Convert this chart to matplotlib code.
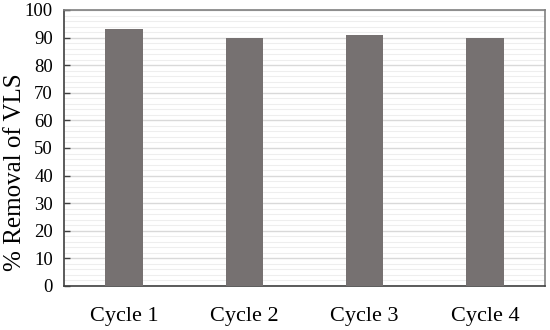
import matplotlib
matplotlib.use("Agg")
import matplotlib.pyplot as plt
from matplotlib.ticker import MultipleLocator

cycles = ["Cycle 1", "Cycle 2", "Cycle 3", "Cycle 4"]
removal = [93, 90, 91, 90]

plt.rcParams['font.family'] = ['Liberation Serif', 'DejaVu Serif']

fig = plt.figure(figsize=(5.5, 3.3), dpi=100)
ax = fig.add_axes([64/550, 1 - 286/330, (545-64)/550, (286-10)/330])

ax.bar(range(len(cycles)), removal, width=0.31, color="#767171", zorder=3)

ax.set_xlim(-0.5, len(cycles) - 0.5)
ax.set_ylim(0, 100)
ax.yaxis.set_major_locator(MultipleLocator(10))
ax.yaxis.set_minor_locator(MultipleLocator(2))
ax.grid(axis="y", which="major", color="#d9d9d9", linewidth=1.0, zorder=0)
ax.grid(axis="y", which="minor", color="#eeeeee", linewidth=0.8, zorder=0)

ax.set_xticks(range(len(cycles)))
ax.set_xticklabels(cycles, fontsize=16)
ax.tick_params(axis="x", length=0, pad=15)
ax.tick_params(axis="y", which="major", direction="in", length=4, width=1, labelsize=13.5, pad=8, color="#404040")
ax.tick_params(axis="y", which="minor", length=0)

# y label sits a bit below the axis centre in the reference
fig.text(15/550, 1 - 172/330, "% Removal of VLS", fontsize=18, rotation=90,
         ha="center", va="center")

for s in ["left", "bottom"]:
    ax.spines[s].set_color("#404040")
    ax.spines[s].set_linewidth(1.2)
for s in ["top", "right"]:
    ax.spines[s].set_color("#808080")
    ax.spines[s].set_linewidth(1.2)

fig.savefig("out.png", dpi=100)
